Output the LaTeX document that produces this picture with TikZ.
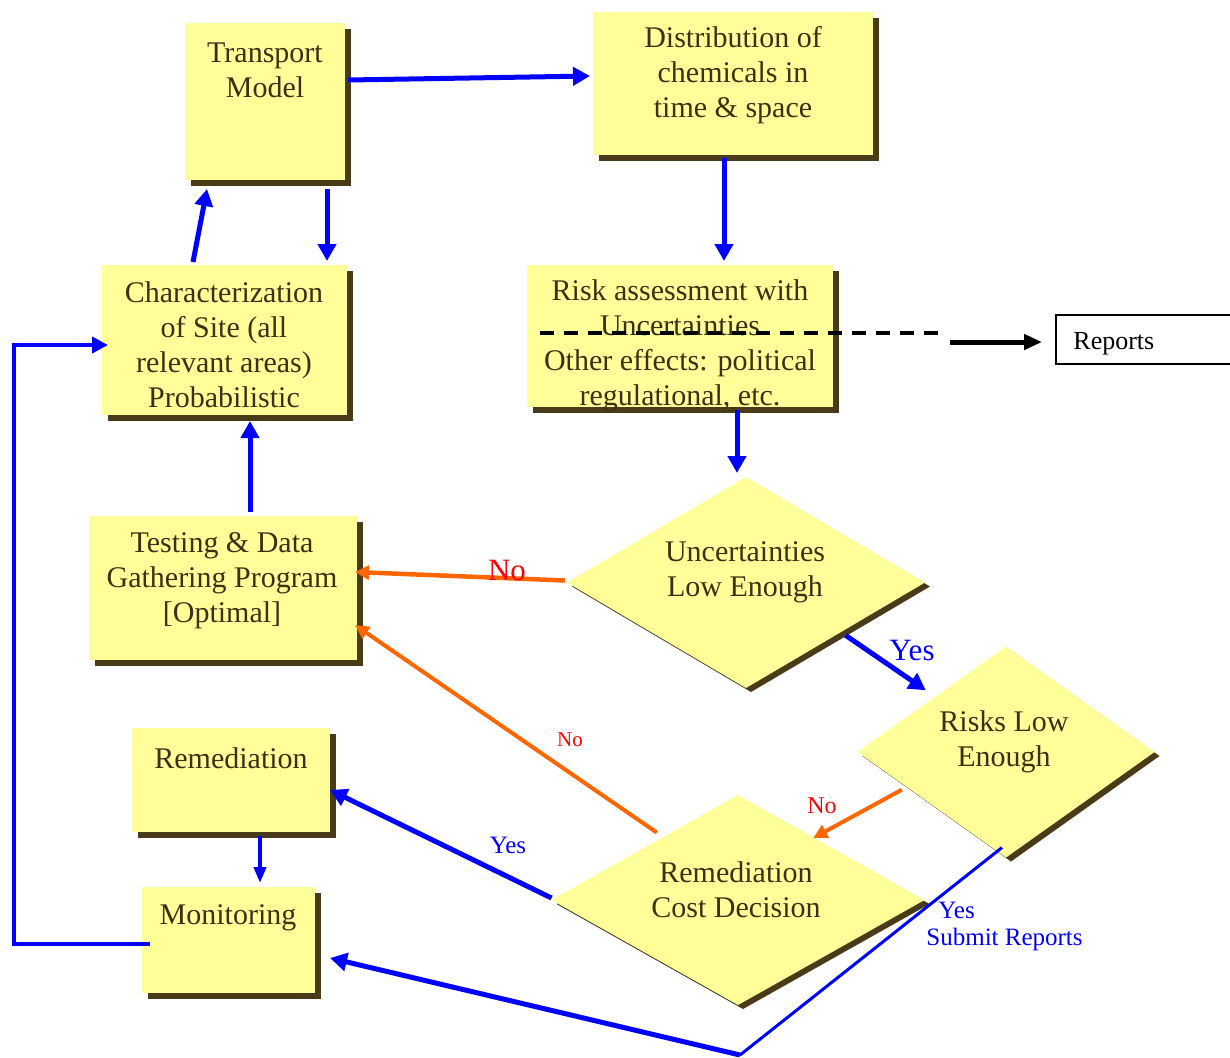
\documentclass[tikz,border=0pt]{standalone}
\usepackage{fontspec}
\setmainfont{Liberation Serif}
\usetikzlibrary{arrows.meta,calc,shapes.geometric,shadows}

\definecolor{boxfill}{HTML}{FFFF99}
\definecolor{shade}{HTML}{4A3B18}
\definecolor{inkbrown}{HTML}{3D3012}
\definecolor{flowblue}{HTML}{0000FF}
\definecolor{noorange}{HTML}{FF6600}
\definecolor{nored}{HTML}{FF0000}

\tikzset{
  box/.style={fill=boxfill, inner sep=0, outer sep=0,
    drop shadow={shadow xshift=3pt, shadow yshift=-3pt, fill=shade, opacity=1}},
  decision/.style={diamond, fill=boxfill, inner sep=0, outer sep=0,
    drop shadow={shadow xshift=2.5pt, shadow yshift=-2pt, fill=shade, opacity=1}},
  report/.style={draw=black, fill=white, line width=0.6pt, inner sep=0, outer sep=0},
  lbl/.style={font=\fontsize{15}{17.5}\selectfont, text=inkbrown, align=center, inner sep=0},
  flow/.style={draw=flowblue, line width=2.5pt, -{Triangle[length=8.5pt,width=9pt]}},
  thinflow/.style={draw=flowblue, line width=2pt, -{Triangle[length=8pt,width=6pt]}},
  back/.style={draw=noorange, line width=2pt, -{Triangle[length=7pt,width=7pt]}},
  yes/.style={text=flowblue, inner sep=0},
  no/.style={text=nored, inner sep=0}
}

\begin{document}
\begin{tikzpicture}[x=0.5pt,y=-0.5pt]
	\useasboundingbox (0,0) rectangle (1230,1057);

	% boxes
	\node[box, minimum width=80pt, minimum height=78.5pt] (tm) at (265,101.5) {};
	\node[box, minimum width=140pt, minimum height=71.5pt] (dist) at (733,83.5) {};
	\node[box, minimum width=122.5pt, minimum height=75pt] (char) at (224.5,340) {};
	\node[box, minimum width=153pt, minimum height=71pt] (risk) at (680,336) {};
	\node[box, minimum width=134pt, minimum height=72pt] (test) at (223,588) {};
	\node[box, minimum width=99pt, minimum height=52pt] (rem) at (231,780) {};
	\node[box, minimum width=86.5pt, minimum height=53pt] (mon) at (228.5,940) {};
	\node[report, minimum width=92pt, minimum height=24.5pt] (reports) at (1148,339.5) {};

	% decisions
	\node[decision, minimum width=179pt, minimum height=105.5pt] (unc) at (746,582.5) {};
	\node[decision, minimum width=148.5pt, minimum height=105.5pt] (risks) at (1006,752) {};
	\node[decision, minimum width=186.5pt, minimum height=105pt] (cost) at (738,900) {};

	% texts
	\node[lbl] (tmlbl) at (265,70) {Transport\\Model};
	\node[lbl] (distlbl) at (733,75.5) {Distribution of\\chemicals in\\time \& space};
	\node[lbl] (charlbl) at (224,345) {Characterization\\of Site (all\\relevant areas)\\Probabilistic};
	\node[lbl] (risklbl) at (680,345.5) {Risk assessment with\\Uncertainties\\Other effects: political\\regulational, etc.};
	\node[lbl] (testlbl) at (222,581) {Testing \& Data\\Gathering Program\\{[Optimal]}};
	\node[lbl] (remlbl) at (231,758) {Remediation};
	\node[lbl] (monlbl) at (228,918) {Monitoring};
	\node[lbl] (unclbl) at (745,572) {Uncertainties\\Low Enough};
	\node[lbl] (riskslbl) at (1004,741.5) {Risks Low\\Enough};
	\node[lbl] (costlbl) at (736,890) {Remediation\\Cost Decision};
	\node[inner sep=0, anchor=west, font=\fontsize{13}{15}\selectfont] (replbl) at (1073,344) {Reports};

	% reports line
	\coordinate (dashend) at (940,333);
	\coordinate (repstart) at (950,342);
	\draw[black, line width=2pt, dash pattern=on 7pt off 5pt] ($(risk.west)+(13,-3)$) -- (dashend);
	\draw[black, line width=2.5pt, -{Triangle[length=9pt,width=7.5pt]}] (repstart) -- ($(reports.west)+(-14,2.5)$);

	% main flow
	\draw[flow] ($(tm.east)+(3,-21.5)$) -- ($(dist.west)+(-3,-7.5)$);
	\draw[flow] ($(tm.south)+(62,9)$) -- ($(char.north)+(102.5,-4)$);
	\draw[flow] ($(char.north)+(-31.5,-3)$) -- ($(tm.south)+(-58,9)$);
	\draw[flow] ($(dist.south)+(-9,3)$) -- ($(risk.north)+(44,-4)$);
	\draw[flow] ($(risk.south)+(57,3)$) -- ($(unc.north)+(-9,-4)$);
	\draw[flow] ($(test.north)+(27,-4)$) -- ($(char.south)+(25.5,6)$);
	\draw[draw=flowblue, line width=2.25pt, -{Triangle[length=8pt,width=8pt]}]
		($(mon.west)+(8,4)$) -| (14,345) -- ($(char.west)+(6,5)$);
	\draw[flow] ($(unc.south east)+(10,0)$) -- ($(risks.north west)+(-6,-9)$);
	\draw[flow] ($(cost.west)+(0,-2)$) -- ($(rem.east)+(0,10)$);
	\draw[thinflow] ($(rem.south)+(29,4)$) -- ($(mon.north)+(31.5,-4)$);

	\coordinate (bend) at (740,1055);
	\draw[draw=flowblue, line width=1.5pt] ($(risks.south)+(-4,-10)$) -- (bend);
	\draw[flow] (bend) -- ($(mon.east)+(15,18)$);

	% loops back
	\draw[back, line width=2.25pt] ($(unc.west)+(-2,-2)$) -- ($(test.east)+(-2,-16)$);
	\draw[back] ($(cost.north west)+(12,-15)$) -- ($(test.east)+(-2,37)$);
	\draw[back] ($(risks.south west)+(-30,-15)$) -- ($(cost.north east)+(-18,-9.5)$);

	% answers
	\node[no, font=\fontsize{15.5}{17}\selectfont] (no1) at (507,570) {No};
	\node[no, font=\fontsize{10.5}{12}\selectfont] (no2) at (570,740) {No};
	\node[no, font=\fontsize{12}{14}\selectfont] (no3) at (822,806) {No};
	\node[yes, font=\fontsize{15.5}{17}\selectfont] (yes1) at (912,650) {Yes};
	\node[yes, font=\fontsize{12.5}{14}\selectfont] (yes2) at (508,845) {Yes};
	\node[yes, font=\fontsize{12.5}{13.5}\selectfont, align=left, anchor=west] (yes3) at (926,926) {\hspace*{6pt}Yes\\Submit Reports};
\end{tikzpicture}
\end{document}
